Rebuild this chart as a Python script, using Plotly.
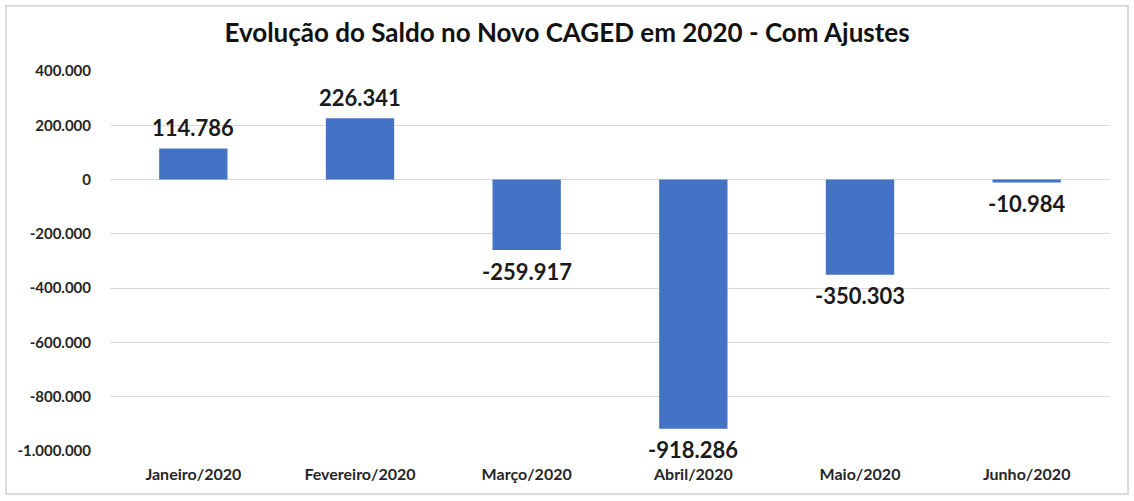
import plotly.graph_objects as go

categorias = ["Janeiro/2020", "Fevereiro/2020", "Março/2020", "Abril/2020", "Maio/2020", "Junho/2020"]
saldo = [114786, 226341, -259917, -918286, -350303, -10984]
tick_vals = [400000, 200000, 0, -200000, -400000, -600000, -800000, -1000000]
tick_text = ["400.000", "200.000", "0", "-200.000", "-400.000", "-600.000", "-800.000", "-1.000.000"]
rotulos = [f"{v:,}".replace(",", ".") for v in saldo]

FONT = "Lato"

fig = go.Figure(go.Bar(
    x=categorias, y=saldo,
    marker=dict(color="#4472C4", line=dict(width=0)),
    hoverinfo="skip",
))

anots = []
for c, v, t in zip(categorias, saldo, rotulos):
    anots.append(dict(x=c, y=v, xref="x", yref="y", text=f"<b>{t}</b>", showarrow=False,
                      xanchor="center", yanchor="middle", yshift=21 if v >= 0 else -21,
                      font=dict(family=FONT, size=22, color="#1a1a1a")))

fig.update_layout(
    width=1134, height=501,
    margin=dict(l=110, r=24, t=71, b=50),
    paper_bgcolor="white", plot_bgcolor="white",
    bargap=0.59,
    showlegend=False,
    annotations=anots,
    title=dict(text="<b>Evolução do Saldo no Novo CAGED em 2020 - Com Ajustes</b>",
               x=0.5, xanchor="center", y=0.934, yanchor="middle",
               font=dict(family=FONT, size=26, color="#111111")),
    xaxis=dict(showgrid=False, showline=False, ticks="", ticklabelstandoff=12,
               tickfont=dict(family=FONT, size=16, color="#262626", weight="bold")),
    yaxis=dict(range=[-1000000, 400000], tickvals=tick_vals, ticktext=tick_text,
               showgrid=True, gridcolor="#d9d9d9", gridwidth=1,
               zeroline=True, zerolinecolor="#d9d9d9", zerolinewidth=1,
               ticks="", ticklabelstandoff=18,
               tickfont=dict(family=FONT, size=15, color="#262626", weight="bold")),
    shapes=[dict(type="rect", xref="paper", yref="paper",
                 x0=-0.104, x1=1.018, y0=-0.113, y1=1.172,
                 line=dict(color="#d0d0d0", width=1.5), fillcolor="rgba(0,0,0,0)",
                 layer="below")],
)

fig.write_html("out.html", config={"displayModeBar": False})

with open("out.html", "r", encoding="utf-8") as f:
    html = f.read()
html = html.replace("<head>", "<head><style>html,body{margin:0;padding:0;}</style>", 1)
with open("out.html", "w", encoding="utf-8") as f:
    f.write(html)
